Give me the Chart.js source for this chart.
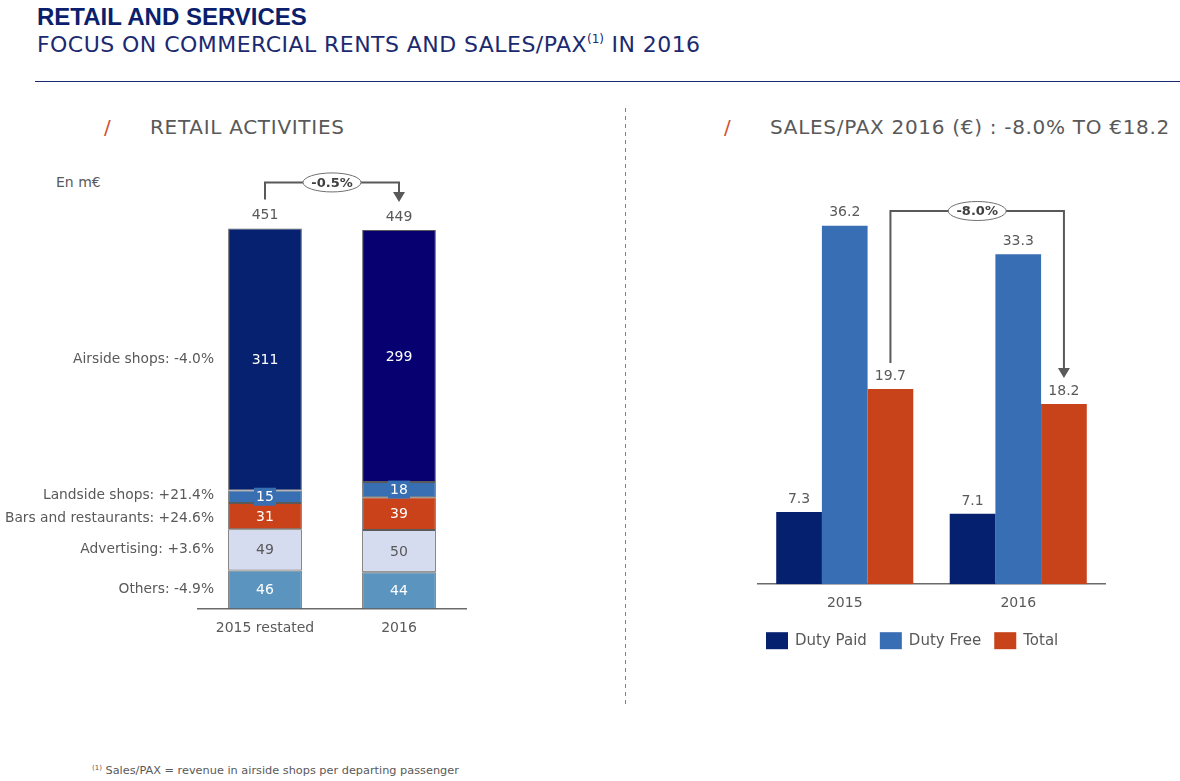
<!DOCTYPE html>
<html>
<head>
<meta charset="utf-8">
<script src="https://cdn.jsdelivr.net/npm/chart.js@4.4.1/dist/chart.umd.min.js"></script>
<style>
  body { margin:0; width:1180px; height:781px; background:#fff; position:relative; overflow:hidden;
         font-family:'DejaVu Sans', sans-serif; color:#595959; }
  .abs { position:absolute; white-space:nowrap; }
  #title { left:37px; top:3px; font:bold 24px 'Liberation Sans Narrow', 'Liberation Sans', sans-serif; color:#0c1f6d; }
  #subtitle { left:37px; top:32px; font-size:22px; letter-spacing:0.45px; color:#1b2a70; }
  #subtitle sup { font-size:12px; vertical-align:9px; line-height:0; letter-spacing:0; }
  #rule { left:35px; top:81px; width:1145px; height:0; border-top:1px solid #1b2a70; }
  #divider { left:625px; top:108px; width:1px; height:597px;
             background:repeating-linear-gradient(to bottom, #808080 0 4px, transparent 4px 8px); }
  .sect { top:115px; font-size:20px; letter-spacing:0.7px; color:#595959; }
  .slash { color:#d2502e; }
  #enme { left:56px; top:174px; font-size:14px; }
  #leftBox { left:0; top:150px; width:480px; height:500px; }
  #rightBox { left:640px; top:150px; width:540px; height:520px; }
  #foot { left:92px; top:764px; font-size:11.3px; }
  #foot sup { font-size:7px; vertical-align:4px; line-height:0; }
</style>
</head>
<body>
<div class="abs" id="title">RETAIL AND SERVICES</div>
<div class="abs" id="subtitle">FOCUS ON COMMERCIAL RENTS AND SALES/PAX<sup>(1)</sup> IN 2016</div>
<div class="abs" id="rule"></div>
<div class="abs" id="divider"></div>
<div class="abs sect slash" style="left:104px">/</div>
<div class="abs sect" style="left:150px">RETAIL ACTIVITIES</div>
<div class="abs sect slash" style="left:724px">/</div>
<div class="abs sect" style="left:770px">SALES/PAX 2016 (€) : -8.0% TO €18.2</div>
<div class="abs" id="enme">En m€</div>
<div class="abs" id="leftBox"><canvas id="retailChart"></canvas></div>
<div class="abs" id="rightBox"><canvas id="paxChart"></canvas></div>
<div class="abs" id="foot"><sup>(1)</sup> Sales/PAX = revenue in airside shops per departing passenger</div>

<script>
// data - retail activities (m€), stacked from bottom to top
const retailCats = ['2015 restated', '2016'];
const segNames = ['Others: -4.9%', 'Advertising: +3.6%', 'Bars and restaurants: +24.6%', 'Landside shops: +21.4%', 'Airside shops: -4.0%'];
const others = [46, 44];
const advertising = [49, 50];
const barsRestaurants = [31, 39];
const landside = [15, 18];
const airside = [311, 299];
const retailTotals = [451, 449];
const retailChange = '-0.5%';

// data - sales/pax (€)
const paxCats = ['2015', '2016'];
const paxSeries = ['Duty Paid', 'Duty Free', 'Total'];
const dutyPaid = [7.3, 7.1];
const dutyFree = [36.2, 33.3];
const paxTotal = [19.7, 18.2];
const paxChange = '-8.0%';

const FONT = "'DejaVu Sans', sans-serif";
const GREY = '#595959';

// bracket with the % change bubble between two bars
function drawBracket(ctx, x1, y1, x2, y2, yTop, text) {
    ctx.save();
    ctx.strokeStyle = GREY;
    ctx.lineWidth = 2;
    ctx.beginPath();
    ctx.moveTo(x1, y1);
    ctx.lineTo(x1, yTop);
    ctx.lineTo(x2, yTop);
    ctx.lineTo(x2, y2 - 9);
    ctx.stroke();
    ctx.fillStyle = GREY;
    ctx.beginPath();
    ctx.moveTo(x2 - 6, y2 - 10);
    ctx.lineTo(x2 + 6, y2 - 10);
    ctx.lineTo(x2, y2);
    ctx.closePath();
    ctx.fill();
    const mx = (x1 + x2) / 2;
    ctx.beginPath();
    ctx.ellipse(mx, yTop, 29, 9.5, 0, 0, Math.PI * 2);
    ctx.fillStyle = '#fff';
    ctx.fill();
    ctx.lineWidth = 1;
    ctx.strokeStyle = '#707070';
    ctx.stroke();
    ctx.fillStyle = '#404040';
    ctx.font = 'bold 13px ' + FONT;
    ctx.textAlign = 'center';
    ctx.textBaseline = 'middle';
    ctx.fillText(text, mx, yTop + 1);
    ctx.restore();
}

const retailLabels = {
    id: 'retailLabels',
    afterDatasetsDraw(chart) {
        const ctx = chart.ctx;
        ctx.save();
        ctx.textBaseline = 'middle';
        chart.data.datasets.forEach((ds, i) => {
            const meta = chart.getDatasetMeta(i);
            meta.data.forEach((bar, j) => {
                const cy = (bar.y + bar.base) / 2;
                if (ds.labelBox) {
                    ctx.fillStyle = ds.labelBox;
                    ctx.fillRect(bar.x - 11, cy - 9, 22, 18);
                }
                ctx.fillStyle = ds.labelColor;
                ctx.textAlign = 'center';
                ctx.font = '14px ' + FONT;
                ctx.fillText(ds.data[j], bar.x, cy + 1);
            });
            // segment names left of the first bar
            const first = meta.data[0];
            ctx.fillStyle = GREY;
            ctx.textAlign = 'right';
            ctx.font = '13.8px ' + FONT;
            ctx.fillText(ds.label, first.x - 51, (first.y + first.base) / 2 + (ds.nameShift || 0));
        });
        // totals
        const tops = chart.getDatasetMeta(chart.data.datasets.length - 1).data;
        ctx.font = '14px ' + FONT;
        ctx.fillStyle = GREY;
        ctx.textAlign = 'center';
        tops.forEach((bar, j) => ctx.fillText(retailTotals[j], bar.x, bar.y - 13));
        ctx.restore();
        const yTop = Math.min(tops[0].y, tops[1].y) - 46;
        drawBracket(ctx, tops[0].x, tops[0].y - 29, tops[1].x, tops[1].y - 28, yTop, retailChange);
    }
};

new Chart(document.getElementById('retailChart'), {
    type: 'bar',
    data: {
        labels: retailCats,
        datasets: [
            { label: segNames[0], data: others, backgroundColor: '#5b95bf', labelColor: '#fff' },
            { label: segNames[1], data: advertising, backgroundColor: '#d6dcef', labelColor: GREY },
            { label: segNames[2], data: barsRestaurants, backgroundColor: '#c9421a', labelColor: '#fff', nameShift: 2 },
            { label: segNames[3], data: landside, backgroundColor: '#386fb3', labelColor: '#fff', labelBox: '#386fb3', nameShift: -1 },
            { label: segNames[4], data: airside, backgroundColor: ['#05216f', '#060070'], labelColor: '#fff' }
        ]
    },
    options: {
        responsive: true,
        maintainAspectRatio: false,
        animation: false,
        events: [],
        layout: { padding: { left: 198, right: 14, top: 38, bottom: 2 } },
        datasets: {
            bar: { borderColor: '#5a5a5a', borderWidth: 1, borderSkipped: false, categoryPercentage: 1, barPercentage: 0.55 }
        },
        scales: {
            x: {
                stacked: true,
                grid: { display: false, drawTicks: false },
                border: { display: true, color: '#6b6b6b', width: 1.5 },
                ticks: { color: GREY, padding: 11, font: { family: FONT, size: 14 } }
            },
            y: { stacked: true, display: false, min: 0, max: 500 }
        },
        plugins: { legend: { display: false }, tooltip: { enabled: false } }
    },
    plugins: [retailLabels]
});

const paxLabels = {
    id: 'paxLabels',
    afterDatasetsDraw(chart) {
        const ctx = chart.ctx;
        ctx.save();
        ctx.font = '14px ' + FONT;
        ctx.fillStyle = GREY;
        ctx.textAlign = 'center';
        ctx.textBaseline = 'middle';
        chart.data.datasets.forEach((ds, i) => {
            chart.getDatasetMeta(i).data.forEach((bar, j) => ctx.fillText(ds.data[j].toFixed(1), bar.x, bar.y - 13));
        });
        // legend
        let x = chart.chartArea.left + 8;
        const ly = chart.chartArea.bottom + 56;
        ctx.font = '15px ' + FONT;
        ctx.textAlign = 'left';
        chart.data.datasets.forEach(ds => {
            ctx.fillStyle = ds.backgroundColor;
            ctx.fillRect(x, ly - 8, 22, 17);
            ctx.fillStyle = GREY;
            ctx.fillText(ds.label, x + 29, ly + 1);
            x += 29 + ctx.measureText(ds.label).width + 13;
        });
        ctx.restore();
        const tot = chart.getDatasetMeta(2).data;
        drawBracket(ctx, tot[0].x, tot[0].y - 26, tot[1].x, tot[1].y - 26, chart.chartArea.top + 23, paxChange);
    }
};

new Chart(document.getElementById('paxChart'), {
    type: 'bar',
    data: {
        labels: paxCats,
        datasets: [
            { label: paxSeries[0], data: dutyPaid, backgroundColor: '#04206f' },
            { label: paxSeries[1], data: dutyFree, backgroundColor: '#386eb3' },
            { label: paxSeries[2], data: paxTotal, backgroundColor: '#c8421a' }
        ]
    },
    options: {
        responsive: true,
        maintainAspectRatio: false,
        animation: false,
        events: [],
        layout: { padding: { left: 118, right: 75, top: 38, bottom: 47 } },
        datasets: { bar: { borderWidth: 0, categoryPercentage: 0.79, barPercentage: 1 } },
        scales: {
            x: {
                grid: { display: false, drawTicks: false },
                border: { display: true, color: '#6b6b6b', width: 1.5 },
                ticks: { color: GREY, padding: 11, font: { family: FONT, size: 14 } }
            },
            y: { display: false, min: 0, max: 40 }
        },
        plugins: { legend: { display: false }, tooltip: { enabled: false } }
    },
    plugins: [paxLabels]
});
</script>
</body>
</html>
